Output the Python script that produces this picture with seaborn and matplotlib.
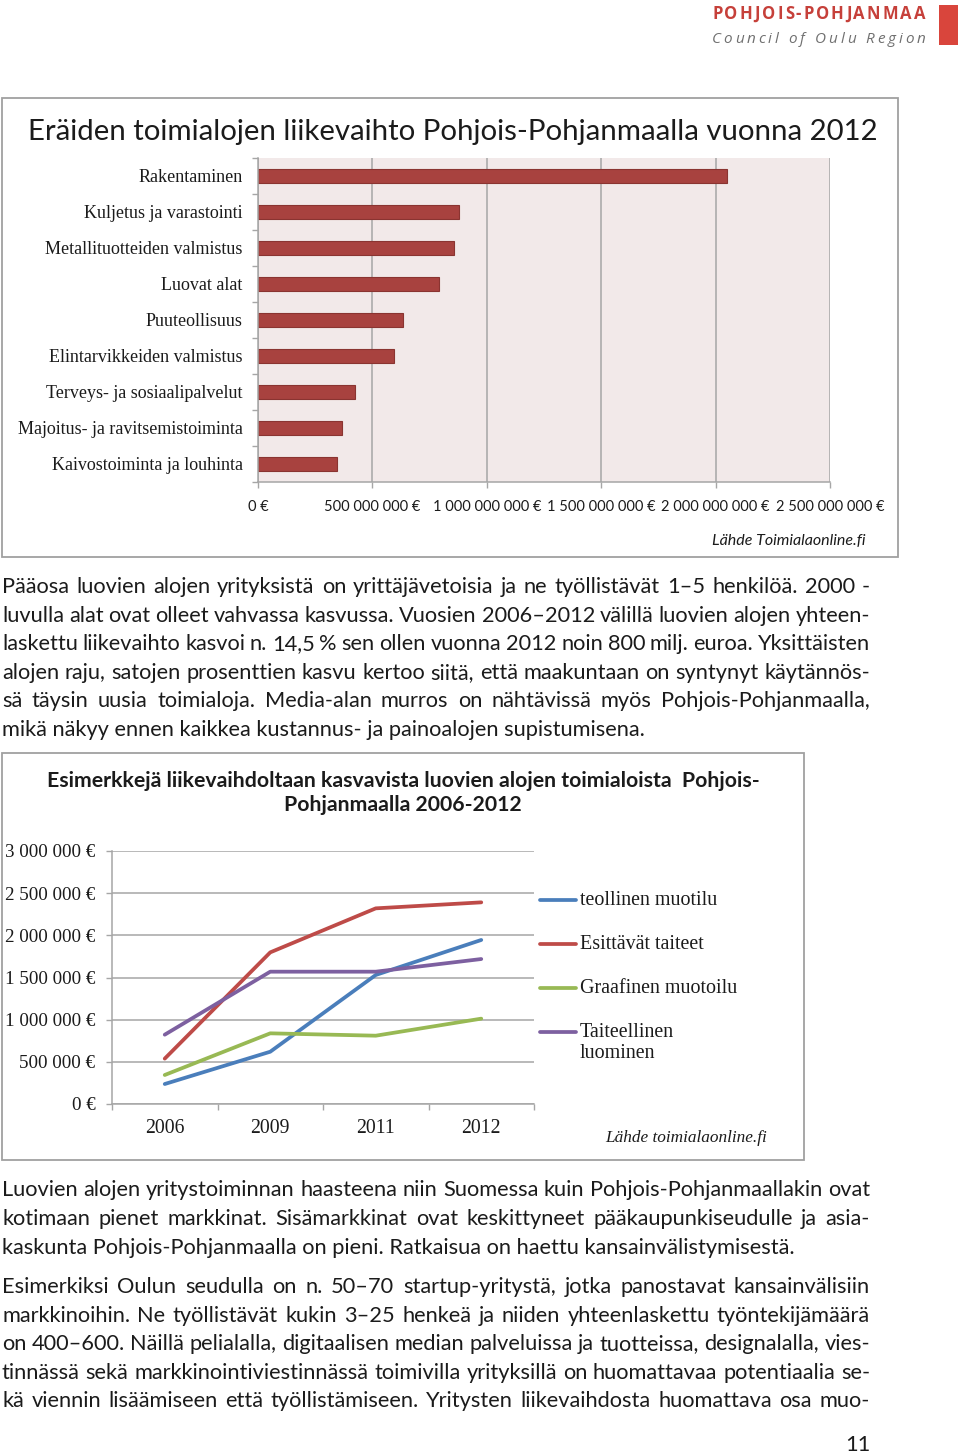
import numpy as np
import pandas as pd
import matplotlib
matplotlib.use("Agg")
import matplotlib.pyplot as plt
import seaborn as sns
from matplotlib.patches import Rectangle
from matplotlib.lines import Line2D
from matplotlib.ticker import FuncFormatter, FixedLocator

# ---------------- data ----------------
industries = ["Rakentaminen", "Kuljetus ja varastointi", "Metallituotteiden valmistus",
              "Luovat alat", "Puuteollisuus", "Elintarvikkeiden valmistus",
              "Terveys- ja sosiaalipalvelut", "Majoitus- ja ravitsemistoiminta",
              "Kaivostoiminta ja louhinta"]
turnover_2012 = [2050e6, 878e6, 857e6, 791e6, 634e6, 594e6, 424e6, 367e6, 345e6]
bar_ticks = [0, 500e6, 1000e6, 1500e6, 2000e6, 2500e6]
bar_tick_labels = ["0 €", "500 000 000 €", "1 000 000 000 €", "1 500 000 000 €",
                   "2 000 000 000 €", "2 500 000 000 €"]

years = ["2006", "2009", "2011", "2012"]
teollinen = [237e3, 620e3, 1530e3, 1945e3]
esittavat = [538e3, 1798e3, 2320e3, 2391e3]
graafinen = [344e3, 838e3, 810e3, 1012e3]
taiteellinen = [822e3, 1569e3, 1569e3, 1719e3]
series_names = ["teollinen muotilu", "Esittävät taiteet", "Graafinen muotoilu", "Taiteellinen luominen"]
series_colors = ["#4A7EBB", "#BE4B48", "#98B954", "#7D60A0"]

para1 = ["Pääosa luovien alojen yrityksistä on yrittäjävetoisia ja ne työllistävät 1–5 henkilöä. 2000 -",
         "luvulla alat ovat olleet vahvassa kasvussa. Vuosien 2006–2012 välillä luovien alojen yhteen-",
         "laskettu liikevaihto kasvoi n. 14,5 % sen ollen vuonna 2012 noin 800 milj. euroa. Yksittäisten",
         "alojen raju, satojen prosenttien kasvu kertoo siitä, että maakuntaan on syntynyt käytännös-",
         "sä täysin uusia toimialoja. Media-alan murros on nähtävissä myös Pohjois-Pohjanmaalla,",
         "mikä näkyy ennen kaikkea kustannus- ja painoalojen supistumisena."]
para2 = ["Luovien alojen yritystoiminnan haasteena niin Suomessa kuin Pohjois-Pohjanmaallakin ovat",
         "kotimaan pienet markkinat. Sisämarkkinat ovat keskittyneet pääkaupunkiseudulle ja asia-",
         "kaskunta Pohjois-Pohjanmaalla on pieni. Ratkaisua on haettu kansainvälistymisestä."]
para3 = ["Esimerkiksi Oulun seudulla on n. 50–70 startup-yritystä, jotka panostavat kansainvälisiin",
         "markkinoihin. Ne työllistävät kukin 3–25 henkeä ja niiden yhteenlaskettu työntekijämäärä",
         "on 400–600. Näillä pelialalla, digitaalisen median palveluissa ja tuotteissa, designalalla, vies-",
         "tinnässä sekä markkinointiviestinnässä toimivilla yrityksillä on huomattavaa potentiaalia se-",
         "kä viennin lisäämiseen että työllistämiseen. Yritysten liikevaihdosta huomattava osa muo-"]

# ---------------- setup ----------------
sns.set_theme(style="white")
plt.rcParams["font.family"] = ["Lato", "DejaVu Sans"]
W, H = 960, 1454
fig = plt.figure(figsize=(W / 100, H / 100), dpi=100)
fig.patch.set_facecolor("white")
renderer = fig.canvas.get_renderer()

SANS = ["Lato", "DejaVu Sans"]
SERIF = ["Liberation Serif", "DejaVu Serif"]
TXT = "#1b1b1b"
GRID = "#A6A6A6"


def text_width(s, **kw):
    t = fig.text(0, 0, s, **kw)
    w = t.get_window_extent(renderer).width
    t.remove()
    return w


def put(x, y, s, **kw):
    return fig.text(x / W, 1 - y / H, s, **kw)


def fit_size(s, target, **kw):
    return 10 * target / text_width(s, fontsize=10, **kw)


def justify(line, x0, x1, y, **kw):
    words = line.split(" ")
    widths = [text_width(w, **kw) for w in words]
    gap = (x1 - x0 - sum(widths)) / max(len(words) - 1, 1)
    x = x0
    for w, wd in zip(words, widths):
        put(x, y, w, ha="left", va="baseline", **kw)
        x += wd + gap


def spread_chars(s, x0, x1, y, **kw):
    sp = text_width("n", **kw) * 0.55
    widths = [sp if c == " " else text_width(c, **kw) for c in s]
    gap = (x1 - x0 - sum(widths)) / (len(s) - 1)
    x = x0
    for c, wd in zip(s, widths):
        if c != " ":
            put(x, y, c, ha="left", va="baseline", **kw)
        x += wd + gap


def px_axes(l, t, r, b):
    return fig.add_axes([l / W, 1 - b / H, (r - l) / W, (b - t) / H])


def box(l, t, r, b):
    fig.add_artist(Rectangle((l / W, 1 - b / H), (r - l) / W, (b - t) / H,
                             transform=fig.transFigure, fill=False,
                             edgecolor="#A0A0A0", lw=1.3))


# ---------------- header ----------------
spread_chars("POHJOIS-POHJANMAA", 712, 925, 19, family=["Open Sans", "DejaVu Sans"],
             fontsize=12, fontweight="bold", color="#C6403A")
spread_chars("Council of Oulu Region", 712, 925, 43, family=["Open Sans", "DejaVu Sans"],
             fontsize=11, style="italic", color="#707070")
fig.add_artist(Rectangle((939 / W, 1 - 45 / H), 19 / W, 40 / H, transform=fig.transFigure,
                         facecolor="#D9453C", edgecolor="none"))

# ---------------- chart 1 ----------------
box(2, 98, 898, 557)
t1 = "Eräiden toimialojen liikevaihto Pohjois-Pohjanmaalla vuonna 2012"
put(28, 140, t1, family=SANS, fontsize=fit_size(t1, 850, family=SANS), color=TXT,
    ha="left", va="baseline")

ax1 = px_axes(258, 158, 830, 482)
sns.barplot(x=turnover_2012, y=industries, orient="h", color="#A8423F",
            edgecolor="#8A3431", linewidth=0.8, width=0.4, saturation=1, ax=ax1)
ax1.set_facecolor("#F2E9E9")
ax1.set_xlim(0, 2.5e9)
ax1.set_ylim(len(industries) - 0.5, -0.5)
ax1.set_axisbelow(True)
ax1.xaxis.grid(True, color=GRID, lw=1.1)
ax1.yaxis.grid(False)
for s in ["top", "right"]:
    ax1.spines[s].set_visible(False)
for s in ["left", "bottom"]:
    ax1.spines[s].set_color(GRID)
    ax1.spines[s].set_linewidth(1.1)
ax1.set_xticks(bar_ticks)
ax1.set_xticklabels(bar_tick_labels, family=SANS, fontsize=10.5, color=TXT)
ax1.tick_params(axis="x", direction="out", length=4, width=1, color=GRID, pad=9, bottom=True)
ax1.set_yticks(range(len(industries)))
ax1.set_yticklabels(industries, family=SERIF, fontsize=13, color=TXT)
ax1.tick_params(axis="y", which="major", length=0, pad=11)
ax1.yaxis.set_minor_locator(FixedLocator(np.arange(-0.5, len(industries), 1.0)))
ax1.tick_params(axis="y", which="minor", direction="out", length=4, width=1, color=GRID, left=True)
ax1.set_xlabel("")
ax1.set_ylabel("")
put(865, 545, "Lähde Toimialaonline.fi", family=SANS, fontsize=11.5, style="italic",
    color=TXT, ha="right", va="baseline")

# ---------------- paragraph 1 ----------------
body_size = fit_size(para1[-1], 644, family=SANS)
BODY = dict(family=SANS, fontsize=body_size, color=TXT)
pitch = 28.6
for i, line in enumerate(para1):
    y = 593 + i * pitch
    if i < len(para1) - 1:
        justify(line, 2, 870, y, **BODY)
    else:
        put(2, y, line, ha="left", va="baseline", **BODY)

# ---------------- chart 2 ----------------
box(2, 753, 804, 1160)
t2a = "Esimerkkejä liikevaihdoltaan kasvavista luovien alojen toimialoista  Pohjois-"
t2b = "Pohjanmaalla 2006-2012"
s2 = fit_size(t2a, 713, family=SANS, fontweight="bold")
put(403, 787, t2a, family=SANS, fontsize=s2, fontweight="bold", color=TXT, ha="center", va="baseline")
put(403, 811, t2b, family=SANS, fontsize=s2, fontweight="bold", color=TXT, ha="center", va="baseline")

df = pd.DataFrame({
    "year": years * 4,
    "value": teollinen + esittavat + graafinen + taiteellinen,
    "series": sum([[n] * len(years) for n in series_names], []),
})
ax2 = px_axes(112, 851, 534, 1104)
sns.lineplot(data=df, x="year", y="value", hue="series", hue_order=series_names,
             palette=series_colors, sort=False, lw=2.7, legend=False, ax=ax2)
ax2.set_xlim(-0.5, len(years) - 0.5)
ax2.set_ylim(0, 3e6)
ax2.set_yticks(np.arange(0, 3e6 + 1, 5e5))
ax2.yaxis.set_major_formatter(FuncFormatter(lambda v, p: f"{int(round(v)):,}".replace(",", " ") + " €"))
ax2.yaxis.grid(True, color=GRID, lw=1.1)
ax2.xaxis.grid(False)
ax2.set_axisbelow(True)
for s in ["top", "right"]:
    ax2.spines[s].set_visible(False)
for s in ["left", "bottom"]:
    ax2.spines[s].set_color(GRID)
    ax2.spines[s].set_linewidth(1.1)
for lab in ax2.get_yticklabels():
    lab.set_family(SERIF)
    lab.set_fontsize(13.7)
    lab.set_color(TXT)
ax2.tick_params(axis="y", direction="out", length=4, width=1, color=GRID, pad=8, left=True)
ax2.set_xticks(range(len(years)))
ax2.set_xticklabels(years, family=SERIF, fontsize=14.2, color=TXT)
ax2.tick_params(axis="x", which="major", length=0, pad=11)
ax2.xaxis.set_minor_locator(FixedLocator(np.arange(-0.5, len(years), 1.0)))
ax2.tick_params(axis="x", which="minor", direction="out", length=4, width=1, color=GRID, bottom=True)
ax2.set_xlabel("")
ax2.set_ylabel("")

# legend
leg_y = [900, 944, 988, 1032]
for name, col, y in zip(series_names, series_colors, leg_y):
    fig.add_artist(Line2D([540 / W, 576 / W], [1 - y / H, 1 - y / H], transform=fig.transFigure,
                          color=col, lw=2.7, solid_capstyle="round"))
    parts = name.split(" ") if name.startswith("Taiteellinen") else [name]
    for j, p in enumerate(parts):
        put(580, y + 5 + j * 21, p, family=SERIF, fontsize=14.4, color=TXT, ha="left", va="baseline")
put(767, 1142, "Lähde toimialaonline.fi", family=SERIF, fontsize=12.4, style="italic",
    color=TXT, ha="right", va="baseline")

# ---------------- paragraphs 2 and 3 ----------------
for i, line in enumerate(para2):
    y = 1196.5 + i * pitch
    if i < len(para2) - 1:
        justify(line, 2, 870, y, **BODY)
    else:
        put(2, y, line, ha="left", va="baseline", **BODY)
for i, line in enumerate(para3):
    justify(line, 2, 870, 1293 + i * pitch, **BODY)

put(870, 1451, "11", ha="right", va="baseline", **BODY)

fig.savefig("out.png", dpi=100, facecolor="white")
